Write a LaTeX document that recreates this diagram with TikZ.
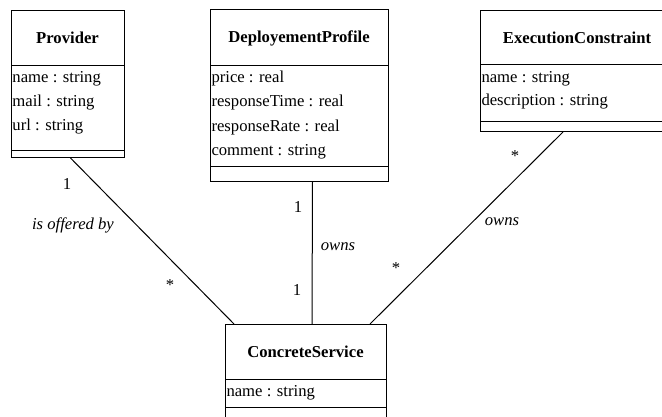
\documentclass[tikz,border=0pt]{standalone}
\usepackage{fontspec}
\setmainfont{Liberation Serif}
\newcommand{\px}{0.75pt}
\newcommand{\umlfont}{\fontsize{12.5}{15}\selectfont}
\tikzset{
  classbox/.style={draw, line width=\px, inner sep=0pt, anchor=north west},
  classname/.style={font=\umlfont\bfseries, inner sep=0pt},
  attr/.style={anchor=west, inner sep=0pt},
  mult/.style={inner sep=0pt},
  role/.style={font=\umlfont\itshape, inner sep=0pt},
}
\begin{document}
\begin{tikzpicture}[x=0.75pt,y=-0.75pt,line width=0.75pt,font=\umlfont]
\clip (0,0) rectangle (662,417);
% Provider
\node[classbox, minimum width=113*\px, minimum height=147*\px] (provider) at (11,10) {};
\node[classname] (provider-title) at (67.5,38) {Provider};
\draw (11,66)--(124,66);
\draw (11,151)--(124,151);
\foreach \t [count=\i] in {name : string, mail : string, url : string} {\node[attr] (provider-a\i) at (12,55+24*\i) {\t};}
% DeployementProfile
\node[classbox, minimum width=178*\px, minimum height=172*\px] (profile) at (210,9) {};
\node[classname] (profile-title) at (299,38) {DeployementProfile};
\draw (210,66)--(388,66);
\draw (210,167)--(388,167);
\foreach \t [count=\i] in {price : real, responseTime : real, responseRate : real, comment : string} {\node[attr] (profile-a\i) at (211,53.5+24.5*\i) {\t};}
% ExecutionConstraint
\node[classbox, minimum width=195*\px, minimum height=121*\px] (constraint) at (480,10) {};
\node[classname] (constraint-title) at (577,38) {ExecutionConstraint};
\draw (480,65)--(675,65);
\draw (480,122)--(675,122);
\foreach \t [count=\i] in {name : string, description : string} {\node[attr] (constraint-a\i) at (481,56+23*\i) {\t};}
% ConcreteService
\node[classbox, minimum width=161*\px, minimum height=110*\px] (service) at (225,324) {};
\node[classname] (service-title) at (305.5,352) {ConcreteService};
\draw (225,380)--(386,380);
\draw (225,408)--(386,408);
\node[attr] (service-a1) at (226,393) {name : string};
% associations
\draw ([xshift=2.5*\px]provider.south) -- ([xshift=9*\px]service.north west);
\draw ([xshift=13*\px]profile.south) -- ([xshift=87*\px]service.north west);
\draw ([xshift=83*\px]constraint.south west) -- ([xshift=145*\px]service.north west);
\node[mult] (m1) at (67,184) {1};
\node[role] (r1) at (73,225) {is offered by};
\node[mult] (m2) at (170,285) {*};
\node[mult] (m3) at (298,207) {1};
\node[role] (r2) at (338,247) {owns};
\node[mult] (m4) at (297,290) {1};
\node[mult] (m5) at (396,268) {*};
\node[role] (r3) at (502,222) {owns};
\node[mult] (m6) at (515,156) {*};
\end{tikzpicture}
\end{document}
